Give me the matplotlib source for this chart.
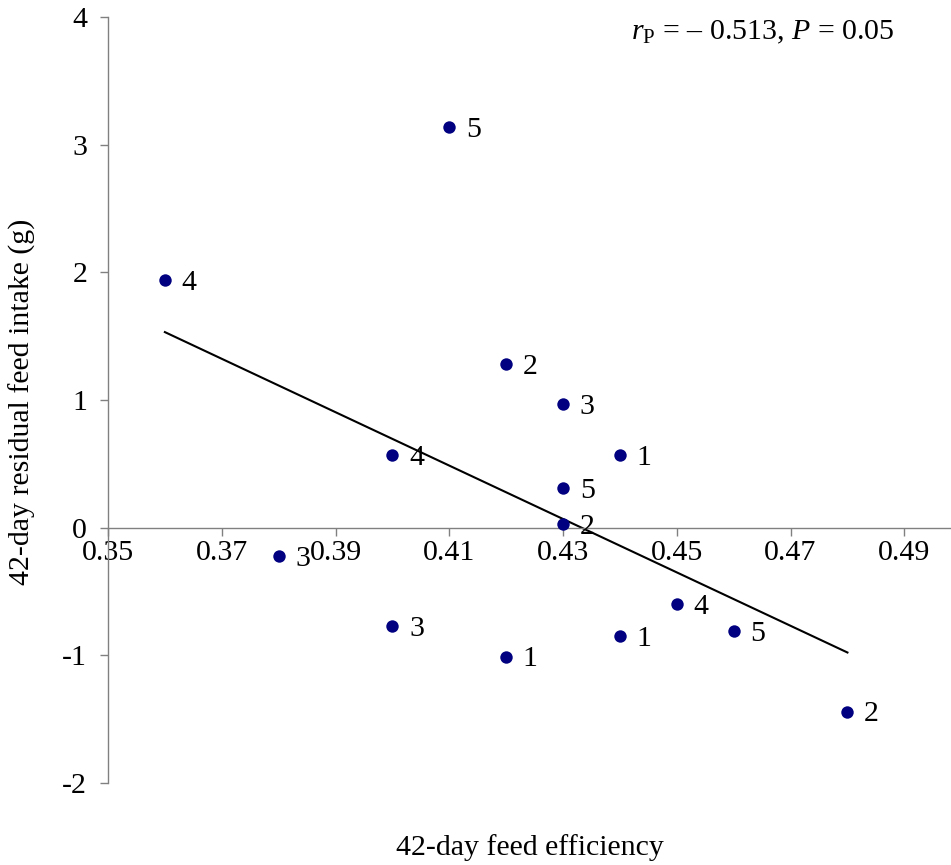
import matplotlib

matplotlib.use("Agg")
import matplotlib.pyplot as plt
import numpy as np

# 42-day feed efficiency vs residual feed intake, with group labels
feed_eff = [0.36, 0.41, 0.42, 0.43, 0.40, 0.44, 0.43, 0.43,
            0.38, 0.40, 0.42, 0.44, 0.45, 0.46, 0.48]
rfi = [1.94, 3.14, 1.28, 0.97, 0.57, 0.57, 0.31, 0.03,
       -0.22, -0.77, -1.01, -0.85, -0.60, -0.81, -1.44]
point_labels = ["4", "5", "2", "3", "4", "1", "5", "2",
                "3", "3", "1", "1", "4", "5", "2"]
x_ticks = [0.35, 0.37, 0.39, 0.41, 0.43, 0.45, 0.47, 0.49]
y_ticks = [-2, -1, 0, 1, 2, 3, 4]

plt.rcParams["font.family"] = "Liberation Serif"
plt.rcParams["mathtext.fontset"] = "custom"
plt.rcParams["mathtext.rm"] = "Liberation Serif"
plt.rcParams["mathtext.it"] = "Liberation Serif:italic"

FS = 21.5
W, H = 951, 865
fig = plt.figure(figsize=(W / 100, H / 100), dpi=100)
left, right, top, bottom = 108, 951, 17, 783
ax = fig.add_axes([left / W, 1 - bottom / H, (right - left) / W, (bottom - top) / H])

x = np.array(feed_eff)
y = np.array(rfi)
ax.scatter(x, y, s=80, color="#000080", zorder=3, linewidths=0)
for xi, yi, lab in zip(x, y, point_labels):
    ax.annotate(lab, (xi, yi), xytext=(12, -2), textcoords="offset points",
                ha="left", va="center", fontsize=FS)

# linear trend line
slope, icpt = np.polyfit(x, y, 1)
xl = np.array([x.min(), x.max()])
ax.plot(xl, slope * xl + icpt, color="black", linewidth=1.5, zorder=2)

ax.set_xlim(0.35, 0.35 + (right - left) / 5688)
ax.set_ylim(-2, 4)
ax.set_xticks(x_ticks)
ax.set_xticklabels([f"{t:.2f}" for t in x_ticks])
ax.set_yticks(y_ticks)
ax.set_yticklabels([str(t) for t in y_ticks])

for side in ("top", "right"):
    ax.spines[side].set_visible(False)
ax.spines["bottom"].set_position(("data", 0))
for side in ("left", "bottom"):
    ax.spines[side].set_color("#808080")
    ax.spines[side].set_linewidth(1.0)
ax.tick_params(axis="both", direction="out", length=6, width=1.0,
               color="#808080", labelsize=FS)
ax.tick_params(axis="x", pad=3)
ax.tick_params(axis="y", pad=9)

fig.text(0.941, 1 - 32 / H, r"$r_{\mathrm{P}}$ = – 0.513, $P$ = 0.05",
         ha="right", va="center", fontsize=FS)
fig.text((left + right) / 2 / W, 1 - 848 / H, "42-day feed efficiency",
         ha="center", va="center", fontsize=FS)
fig.text(22 / W, 1 - 402 / H, "42-day residual feed intake (g)",
         ha="center", va="center", rotation=90, fontsize=FS)

fig.savefig("out.png", dpi=100)
